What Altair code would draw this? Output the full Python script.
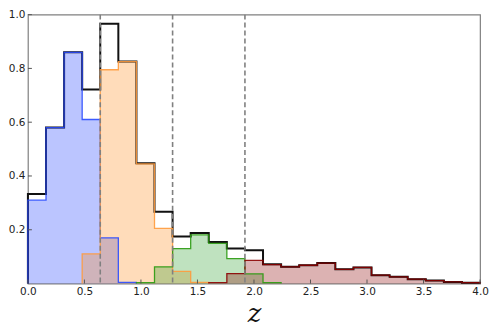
import altair as alt
import pandas as pd

# ---- data ----
bin_width = 0.16

blue_start = 0.0
blue_vals = [0.31, 0.58, 0.86, 0.61, 0.17, 0.004]

orange_start = 0.48
orange_vals = [0.11, 0.795, 0.825, 0.445, 0.205, 0.045, 0.004]

green_start = 0.96
green_vals = [0.003, 0.062, 0.13, 0.181, 0.149, 0.093, 0.036, 0.003]

red_start = 1.6
red_vals = [0.003, 0.037, 0.086, 0.07, 0.062, 0.068, 0.076, 0.053, 0.06,
            0.031, 0.025, 0.016, 0.011, 0.006, 0.003]

total_start = 0.0
total_vals = [0.333, 0.58, 0.86, 0.722, 0.966, 0.826, 0.447, 0.267, 0.175,
              0.188, 0.154, 0.13, 0.124, 0.072, 0.062, 0.068, 0.076, 0.053,
              0.06, 0.031, 0.025, 0.016, 0.011, 0.006, 0.003]

split_z = [0.64, 1.28, 1.92]
x_ticks = [0.0, 0.5, 1.0, 1.5, 2.0, 2.5, 3.0, 3.5, 4.0]
y_ticks = [0.2, 0.4, 0.6, 0.8, 1.0]

series = [
    ("blue", blue_start, blue_vals, "#1f3fff", "#2a4bff"),
    ("orange", orange_start, orange_vals, "#ff8c1a", "#ff9a3c"),
    ("green", green_start, green_vals, "#2ca02c", "#2a9a10"),
    ("red", red_start, red_vals, "#8b0000", "#8b0000"),
]

W, H = 454, 270
xs = alt.Scale(domain=[0, 4], nice=False, zero=False)
ys = alt.Scale(domain=[0, 1], nice=False)


def area_df(start, vals):
    rows = [{"x": start + k * bin_width, "y": v} for k, v in enumerate(vals)]
    rows.append({"x": start + len(vals) * bin_width, "y": vals[-1]})
    return pd.DataFrame(rows)


def line_df(start, vals):
    end = start + len(vals) * bin_width
    rows = [{"x": start, "y": 0.0}]
    rows += [{"x": start + k * bin_width, "y": v} for k, v in enumerate(vals)]
    rows += [{"x": end, "y": vals[-1]}, {"x": end, "y": 0.0}]
    df = pd.DataFrame(rows)
    df["i"] = range(len(df))
    return df


xenc = alt.X("x:Q", scale=xs,
             axis=alt.Axis(values=x_ticks, format=".1f", title="z"))
yenc = alt.Y("y:Q", scale=ys,
             axis=alt.Axis(values=y_ticks, format=".1f", title=None))

layers = []
for name, st, vals, base, stroke in series:
    layers.append(
        alt.Chart(area_df(st, vals)).mark_area(
            interpolate="step-after", color=base, opacity=0.3
        ).encode(x=xenc, y=yenc)
    )

layers.append(
    alt.Chart(line_df(total_start, total_vals)).mark_line(
        interpolate="step-after", color="#111111", strokeWidth=2.0
    ).encode(x=xenc, y=yenc, order="i:Q")
)

for name, st, vals, base, stroke in series:
    layers.append(
        alt.Chart(line_df(st, vals)).mark_line(
            interpolate="step-after", color=stroke, strokeWidth=1.3, opacity=0.9
        ).encode(x=xenc, y=yenc, order="i:Q")
    )

layers.append(
    alt.Chart(pd.DataFrame({"x": split_z})).mark_rule(
        color="#808080", strokeWidth=1.6, strokeDash=[5, 3]
    ).encode(x=alt.X("x:Q", scale=xs))
)

layers.append(
    alt.Chart(pd.DataFrame({"x": x_ticks})).mark_rule(
        color="#555555", strokeWidth=1
    ).encode(x=alt.X("x:Q", scale=xs), y=alt.value(H), y2=alt.value(H - 4))
)
layers.append(
    alt.Chart(pd.DataFrame({"y": y_ticks})).mark_rule(
        color="#555555", strokeWidth=1
    ).encode(y=alt.Y("y:Q", scale=ys), x=alt.value(0), x2=alt.value(4))
)

chart = alt.layer(*layers).properties(
    width=W, height=H,
    autosize=alt.AutoSizeParams(type="none"),
    padding={"left": 20, "top": 6, "right": 10, "bottom": 48},
).configure_view(
    stroke="#808080", strokeWidth=1.2
).configure_axis(
    grid=False, domain=False, ticks=False, labelFlush=False,
    labelFont="DejaVu Sans", labelFontSize=10.5, labelColor="#222222",
    labelPadding=3,
).configure_axisX(
    titleFont="DejaVu Serif", titleFontStyle="italic", titleFontWeight="normal",
    titleFontSize=26, titleColor="#111111", titlePadding=4,
)

chart.save("out.html", embed_options={"renderer": "svg", "actions": False})
